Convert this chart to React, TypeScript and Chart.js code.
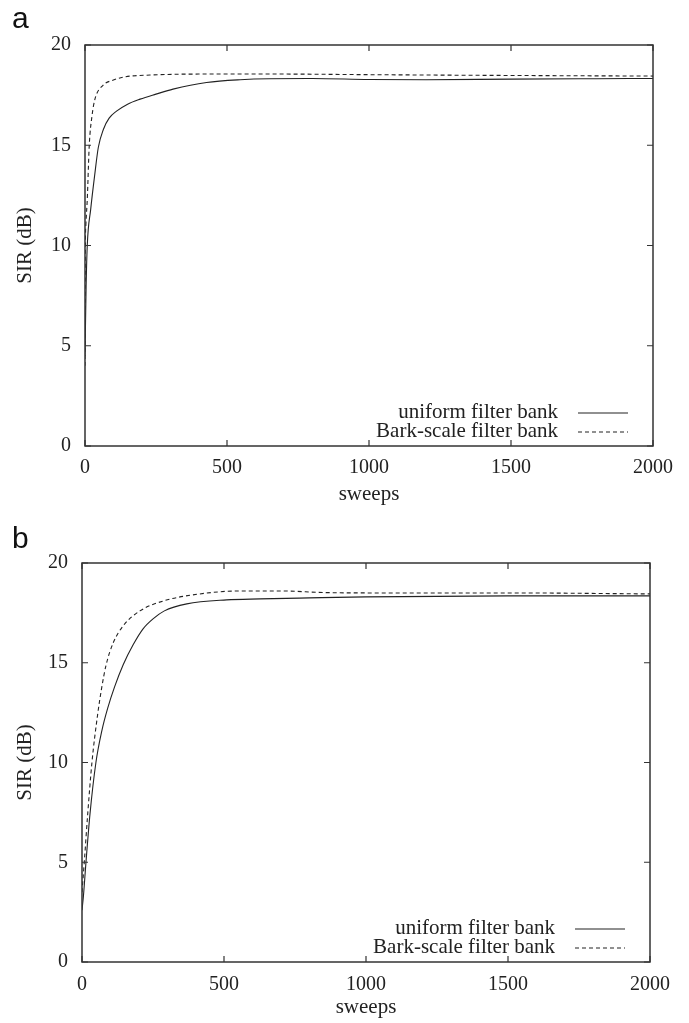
import React, { useEffect, useRef } from "react";
import { Chart, registerables } from "chart.js";
Chart.register(...registerables);

const xTicks = [0, 500, 1000, 1500, 2000];
const yTicks = [0, 5, 10, 15, 20];
const seriesLabels = ["uniform filter bank", "Bark-scale filter bank"];
const xTitle = "sweeps";
const yTitle = "SIR (dB)";

// Panel a
const aUniformX = [0, 4, 8, 20, 34, 47, 65, 85, 111, 150, 194, 250, 310, 428, 546, 650, 800, 1000, 1200, 1500, 1800, 2000];
const aUniformY = [4.5, 8.0, 10.0, 11.8, 13.5, 14.9, 15.8, 16.35, 16.7, 17.05, 17.3, 17.55, 17.8, 18.13, 18.27, 18.32, 18.33, 18.28, 18.27, 18.3, 18.32, 18.33];
const aBarkX = [0, 1, 3, 8, 15, 25, 35, 64, 100, 135, 229, 400, 700, 1000, 1500, 2000];
const aBarkY = [4.0, 9.5, 11.0, 12.3, 15.0, 16.5, 17.3, 18.0, 18.25, 18.4, 18.5, 18.55, 18.55, 18.52, 18.48, 18.45];

// Panel b
const bUniformX = [0, 5, 14, 28, 49, 70, 90, 115, 145, 180, 215, 250, 290, 369, 509, 627, 800, 1000, 1500, 2000];
const bUniformY = [2.6, 3.3, 5.0, 7.4, 10.0, 11.6, 12.7, 13.8, 14.9, 15.9, 16.7, 17.2, 17.6, 17.95, 18.15, 18.2, 18.25, 18.3, 18.35, 18.35];
const bBarkX = [0, 8, 20, 35, 55, 70, 85, 110, 145, 204, 287, 415, 556, 700, 850, 1000, 1500, 2000];
const bBarkY = [3.5, 5.0, 7.4, 10.0, 12.4, 13.8, 14.9, 16.0, 16.85, 17.6, 18.1, 18.45, 18.6, 18.6, 18.52, 18.5, 18.5, 18.45];

const SERIF = "'Liberation Serif', 'Times New Roman', serif";
const INK = "#222";

const pts = (xs: number[], ys: number[]) => xs.map((x, i) => ({ x, y: ys[i] }));

const framePlugin = {
  id: "gnuFrame",
  afterDraw(chart: any) {
    const { ctx, chartArea, scales } = chart;
    const { left, right, top, bottom } = chartArea;
    ctx.save();
    ctx.strokeStyle = "#333";
    ctx.lineWidth = 1.5;
    ctx.strokeRect(left, top, right - left, bottom - top);
    ctx.lineWidth = 1.2;
    const L = 6;
    ctx.beginPath();
    scales.x.ticks.forEach((t: any) => {
      const px = scales.x.getPixelForValue(t.value);
      ctx.moveTo(px, bottom);
      ctx.lineTo(px, bottom - L);
      ctx.moveTo(px, top);
      ctx.lineTo(px, top + L);
    });
    scales.y.ticks.forEach((t: any) => {
      const py = scales.y.getPixelForValue(t.value);
      ctx.moveTo(left, py);
      ctx.lineTo(left + L, py);
      ctx.moveTo(right, py);
      ctx.lineTo(right - L, py);
    });
    ctx.stroke();

    // legend (gnuplot style, bottom right inside)
    ctx.font = `21px ${SERIF}`;
    ctx.fillStyle = INK;
    ctx.textAlign = "right";
    ctx.textBaseline = "alphabetic";
    const rows = [bottom - 28, bottom - 9];
    chart.data.datasets.forEach((ds: any, i: number) => {
      const base = rows[i];
      ctx.fillText(ds.label, right - 95, base);
      ctx.beginPath();
      ctx.strokeStyle = INK;
      ctx.lineWidth = 1.1;
      ctx.setLineDash(ds.borderDash || []);
      ctx.moveTo(right - 75, base - 5);
      ctx.lineTo(right - 25, base - 5);
      ctx.stroke();
      ctx.setLineDash([]);
    });
    ctx.restore();
  },
};

type PanelProps = {
  top: number;
  height: number;
  pad: { top: number; right: number };
  yWidth: number;
  xHeight: number;
  xTickPad: number;
  uniform: { x: number; y: number }[];
  bark: { x: number; y: number }[];
};

function Panel(p: PanelProps) {
  const ref = useRef<HTMLCanvasElement | null>(null);
  useEffect(() => {
    if (!ref.current) return;
    const chart = new Chart(ref.current, {
      type: "line",
      data: {
        datasets: [
          {
            label: seriesLabels[0],
            data: p.uniform,
            borderColor: INK,
            borderWidth: 1.1,
            pointRadius: 0,
            cubicInterpolationMode: "monotone",
            fill: false,
          },
          {
            label: seriesLabels[1],
            data: p.bark,
            borderColor: INK,
            borderWidth: 1.1,
            borderDash: [4, 3],
            pointRadius: 0,
            cubicInterpolationMode: "monotone",
            fill: false,
          },
        ],
      },
      options: {
        animation: false,
        responsive: false,
        layout: { padding: { top: p.pad.top, right: p.pad.right, left: 0, bottom: 0 } },
        plugins: { legend: { display: false }, tooltip: { enabled: false } },
        scales: {
          x: {
            type: "linear",
            min: 0,
            max: 2000,
            afterBuildTicks: (s: any) => {
              s.ticks = xTicks.map((v) => ({ value: v }));
            },
            afterFit: (s: any) => {
              s.height = p.xHeight;
            },
            grid: { display: false, drawTicks: false },
            border: { display: false },
            ticks: {
              padding: p.xTickPad,
              color: INK,
              font: { family: SERIF, size: 20 },
              maxRotation: 0,
              callback: (v: any) => String(v),
            },
            title: {
              display: true,
              text: xTitle,
              color: INK,
              font: { family: SERIF, size: 21 },
              padding: { top: 0, bottom: 3 },
            },
          },
          y: {
            type: "linear",
            min: 0,
            max: 20,
            afterBuildTicks: (s: any) => {
              s.ticks = yTicks.map((v) => ({ value: v }));
            },
            afterFit: (s: any) => {
              s.width = p.yWidth;
            },
            grid: { display: false, drawTicks: false },
            border: { display: false },
            ticks: {
              padding: 14,
              color: INK,
              font: { family: SERIF, size: 20 },
              callback: (v: any) => String(v),
            },
            title: {
              display: true,
              text: yTitle,
              color: INK,
              font: { family: SERIF, size: 21 },
              padding: { top: 13, bottom: 0 },
            },
          },
        },
      } as any,
      plugins: [framePlugin],
    });
    return () => chart.destroy();
  }, []);
  return (
    <canvas
      ref={ref}
      width={689}
      height={p.height}
      style={{ position: "absolute", left: 0, top: p.top, width: 689, height: p.height }}
    />
  );
}

const labelStyle: React.CSSProperties = {
  position: "absolute",
  left: 12,
  fontFamily: "'Liberation Sans', Arial, sans-serif",
  fontSize: 30,
  lineHeight: "30px",
  color: "#111",
};

export default function App() {
  return (
    <div style={{ position: "absolute", left: 0, top: 0, width: 689, height: 1023, background: "#fff" }}>
      <Panel
        top={0}
        height={510}
        pad={{ top: 45, right: 36 }}
        yWidth={85}
        xHeight={64}
        xTickPad={10}
        uniform={pts(aUniformX, aUniformY)}
        bark={pts(aBarkX, aBarkY)}
      />
      <Panel
        top={510}
        height={513}
        pad={{ top: 53, right: 39 }}
        yWidth={82}
        xHeight={61}
        xTickPad={11}
        uniform={pts(bUniformX, bUniformY)}
        bark={pts(bBarkX, bBarkY)}
      />
      <div style={{ ...labelStyle, top: 3 }}>a</div>
      <div style={{ ...labelStyle, top: 523 }}>b</div>
    </div>
  );
}
